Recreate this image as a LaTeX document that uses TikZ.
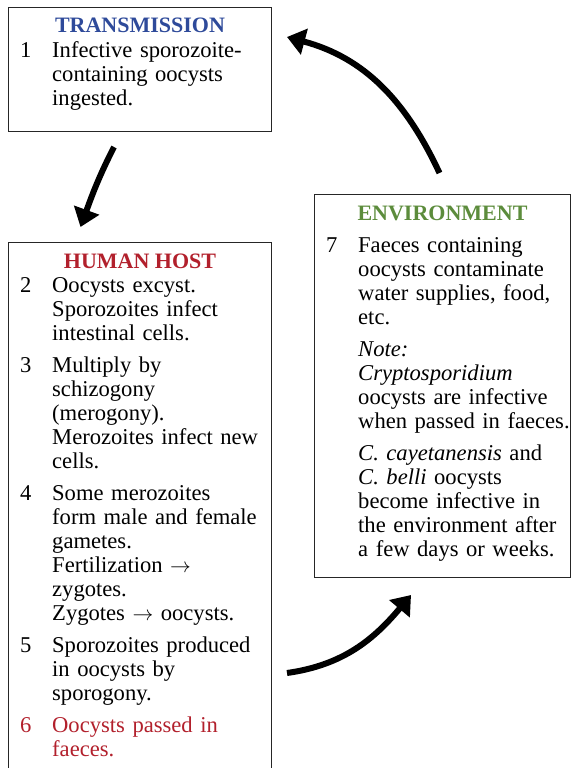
\documentclass[tikz,border=0pt]{standalone}
\usepackage{fontspec}
\setmainfont{Liberation Serif}
\usepackage{xcolor}
\usetikzlibrary{arrows.meta,positioning}
\definecolor{Ltrans}{HTML}{2E4A9A}
\definecolor{Lhost}{HTML}{B2202C}
\definecolor{Lenv}{HTML}{5C8C3C}
% numbered paragraph with hanging number column
\newcommand\stage[2]{\hangindent=32pt\hangafter=0\noindent\llap{\makebox[32pt][l]{#1}}\strut#2\par}

\begin{document}
\begin{tikzpicture}[
  x=1pt, y=1pt,
  frame/.style  ={draw=black!85, line width=1pt, minimum width=263pt, inner sep=0pt, anchor=north west},
  heading/.style={font=\fontsize{22}{24}\selectfont\bfseries, inner sep=0pt, anchor=base},
  body/.style   ={font=\fontsize{22.6}{24}\selectfont, text width=260pt, align=left, inner sep=0pt, anchor=north west,
                  execute at begin node={\setlength\parindent{0pt}\setlength\parskip{8pt}}},
  loopar/.style ={-{Triangle[length=18pt,width=26pt]}, line width=6pt},
]
\useasboundingbox (0,0) rectangle (570,-768);

% ── Transmission ─────────────────────────────────────────────────────
\node[frame, minimum height=124pt] (trans) at (8,-7) {};
\node[heading, text=Ltrans] (transhead) at ([yshift=-26pt]trans.north) {TRANSMISSION};
\node[body] (transbody) at ([shift={(12pt,-33.2pt)}]trans.north west)
  {\stage{1}{Infective sporozoite-\newline containing oocysts\newline ingested.}};

% ── Human host ───────────────────────────────────────────────────────
\node[frame, minimum height=534pt, below=110pt of trans.south west, anchor=north west] (host) {};
\node[heading, text=Lhost] (hosthead) at ([yshift=-26pt]host.north) {HUMAN HOST};
\node[body] (hostbody) at ([shift={(12pt,-33.2pt)}]host.north west)
  {\stage{2}{Oocysts excyst.\newline Sporozoites infect\newline intestinal cells.}
   \stage{3}{Multiply by\newline schizogony\newline (merogony).\newline Merozoites infect new\newline cells.}
   \stage{4}{Some merozoites\newline form male and female\newline gametes.\newline Fertilization $\rightarrow$\newline zygotes.\newline Zygotes $\rightarrow$ oocysts.}
   \stage{5}{Sporozoites produced\newline in oocysts by\newline sporogony.}
   \textcolor{Lhost}{\stage{6}{Oocysts passed in\newline faeces.}}};

% ── Environment ──────────────────────────────────────────────────────
\node[frame, minimum width=256pt, minimum height=383pt, right=42pt of trans.north east, anchor=north west, yshift=-187pt] (env) {};
\node[heading, text=Lenv] (envhead) at ([yshift=-26pt]env.north) {ENVIRONMENT};
\node[body] (envbody) at ([shift={(12pt,-41.2pt)}]env.north west)
  {\stage{7}{Faeces containing\newline oocysts contaminate\newline water supplies, food,\newline etc.}
   \stage{}{\textit{Note:}\newline \textit{Cryptosporidium}\newline oocysts are infective\newline when passed in faeces.}
   \stage{}{\textit{C. cayetanensis} and\newline \textit{C. belli} oocysts\newline become infective in\newline the environment after\newline a few days or weeks.}};

% ── Cycle arrows ─────────────────────────────────────────────────────
\coordinate (a1s) at ([shift={(-26pt,-15pt)}]trans.south);
\coordinate (a1e) at ([shift={(-59.5pt,15pt)}]host.north);
\coordinate (a2s) at ([shift={(-27pt,-95pt)}]env.south west);
\coordinate (a2e) at ([shift={(97pt,-17pt)}]env.south west);
\coordinate (a3s) at ([shift={(-3pt,21pt)}]env.north);
\coordinate (a3e) at ([shift={(15pt,-30pt)}]trans.north east);
\draw[loopar] (a1s) to[out=-117, in=70] (a1e);
\draw[loopar] (a2s) to[out=8, in=-130] (a2e);
\draw[loopar] (a3s) to[out=115, in=-15] (a3e);

\end{tikzpicture}
\end{document}
